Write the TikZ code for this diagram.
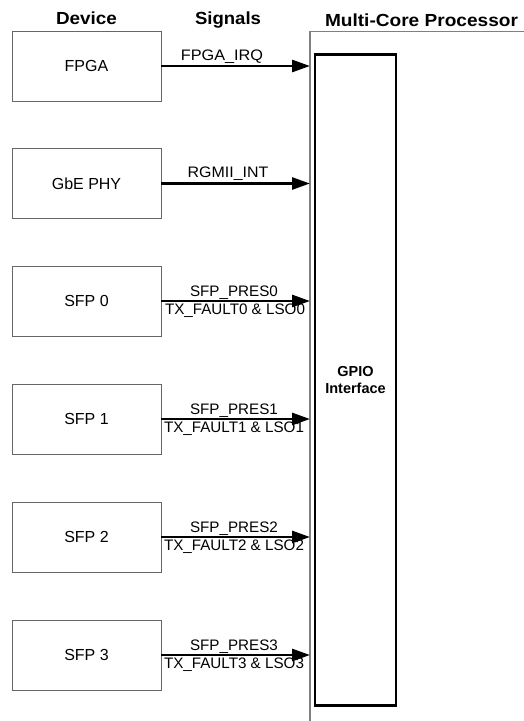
\documentclass[tikz,border=0pt]{standalone}
\usepackage{fontspec}
\setmainfont{Liberation Sans}
\usetikzlibrary{arrows.meta}
\begin{document}
\begin{tikzpicture}[x=1pt,y=-1pt,
  devbox/.style={draw=black!60, line width=0.9pt, minimum width=149pt, minimum height=70pt, inner sep=0pt, font=\fontsize{16}{19}\selectfont},
  sig/.style={-{Triangle[length=18pt,width=12pt]}, line width=2.8pt},
  lbl/.style={font=\fontsize{15.2}{17}\selectfont, inner sep=0pt, anchor=base},
  hdr/.style={font=\bfseries\fontsize{17.5}{20}\selectfont, inner sep=0pt, anchor=base},
  gpiobox/.style={draw=black, line width=2.8pt, minimum width=81pt, minimum height=651pt, inner sep=0pt, align=center, font=\bfseries\fontsize{14.5}{17}\selectfont}]
\useasboundingbox (0,0) rectangle (524,721);
% headers
\node[hdr] (hdev) at (86.5,24) {\scalebox{1.08}[1]{Device}};
\node[hdr] (hsig) at (228,24) {\scalebox{1.06}[1]{Signals}};
\node[hdr] (hproc) at (421.5,26.5) {\scalebox{1.09}[1]{Multi-Core Processor}};
% processor outline
\draw[black!50, line width=1.3pt] (310,721) -- (310,31.5) -- (524,31.5);
\coordinate (pl) at (310,0);
% GPIO
\node[gpiobox] (gpio) at (355.5,380) {GPIO\\Interface};
% devices
\node[devbox] (fpga) at (86.5,66) {FPGA};
\node[devbox] (gbe)  at (86.5,183.5) {GbE PHY};
\node[devbox] (sfp0) at (86.5,301) {SFP 0};
\node[devbox] (sfp1) at (86.5,419) {SFP 1};
\node[devbox] (sfp2) at (86.5,537) {SFP 2};
\node[devbox] (sfp3) at (86.5,655) {SFP 3};
% arrows
\foreach \d in {fpga,gbe,sfp0,sfp1,sfp2,sfp3}{
  \draw[sig] (\d.east) -- (\d.east -| pl);
}
% labels
\node[lbl] (lfpga) at (222,60) {\scalebox{1.07}[1]{FPGA\_IRQ}};
\node[lbl] (lgbe) at (228,177) {\scalebox{1.05}[1]{RGMII\_INT}};
\node[lbl] (la0) at (234,296.5) {SFP\_PRES0};
\node[lbl] (lb0) at (235,314) {TX\_FAULT0 \& LSO0};
\node[lbl] (la1) at (234,414.5) {SFP\_PRES1};
\node[lbl] (lb1) at (234,432) {TX\_FAULT1 \& LSO1};
\node[lbl] (la2) at (234,532.5) {SFP\_PRES2};
\node[lbl] (lb2) at (234,550) {TX\_FAULT2 \& LSO2};
\node[lbl] (la3) at (234,650.5) {SFP\_PRES3};
\node[lbl] (lb3) at (234,668) {TX\_FAULT3 \& LSO3};
\end{tikzpicture}
\end{document}
